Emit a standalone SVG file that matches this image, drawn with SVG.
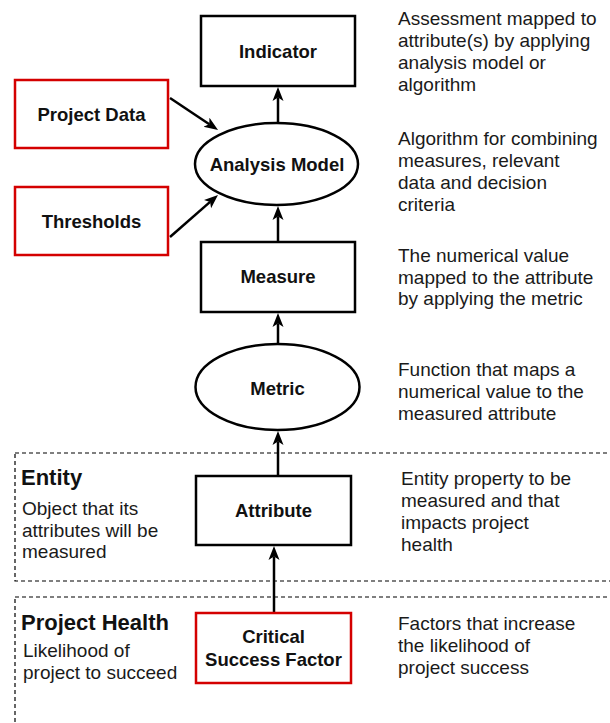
<svg xmlns="http://www.w3.org/2000/svg" width="610" height="723" viewBox="0 0 610 723">
  <style>
    .box { fill: #ffffff; stroke: #000000; stroke-width: 2.5; }
    .red { fill: #ffffff; stroke: #d40000; stroke-width: 2.5; }
    .zone { fill: none; stroke: #000000; stroke-width: 1.2; stroke-dasharray: 4 3; }
    .label { font-family: "Liberation Sans", Arial, Helvetica, sans-serif; font-size: 18.5px; font-weight: bold; fill: #111111; text-anchor: middle; }
    .title { font-family: "Liberation Sans", Arial, Helvetica, sans-serif; font-size: 22px; font-weight: bold; fill: #111111; }
    .desc { font-family: "Liberation Sans", Arial, Helvetica, sans-serif; font-size: 19px; fill: #1a1a1a; }
    .edge { fill: none; stroke: #000000; stroke-width: 2.5; marker-end: url(#arrow); }
  </style>
  <defs>
    <!-- notched arrowhead, anchored at the notch so the line stays hidden under it -->
    <marker id="arrow" markerUnits="userSpaceOnUse" markerWidth="14" markerHeight="12" viewBox="0 0 14 12" refX="3.5" refY="6" orient="auto">
      <path d="M0,0.5 L14,6 L0,11.5 L3.5,6 z" fill="#000000"/>
    </marker>
  </defs>

  <rect width="610" height="723" fill="#ffffff"/>

  <!-- layer zones -->
  <g id="zone-entity">
    <rect class="zone" x="15" y="453" width="620" height="128"/>
    <text class="title" x="21" y="485">Entity</text>
    <text class="desc" x="22" y="515">Object that its</text>
    <text class="desc" x="22" y="537">attributes will be</text>
    <text class="desc" x="22" y="558">measured</text>
  </g>
  <g id="zone-project-health">
    <rect class="zone" x="15" y="597" width="620" height="160"/>
    <text class="title" x="21" y="630">Project Health</text>
    <text class="desc" x="23" y="657">Likelihood of</text>
    <text class="desc" x="23" y="679">project to succeed</text>
  </g>

  <!-- connectors -->
  <g id="connectors">
    <line class="edge" x1="278" y1="123" x2="278" y2="97.5"/>
    <line class="edge" x1="170" y1="98" x2="209.3" y2="124.2"/>
    <line class="edge" x1="170" y1="237" x2="210.1" y2="201.9"/>
    <line class="edge" x1="278" y1="242" x2="278" y2="216.5"/>
    <line class="edge" x1="278" y1="344" x2="278" y2="323.5"/>
    <line class="edge" x1="278" y1="476" x2="278" y2="441.5"/>
    <line class="edge" x1="274" y1="613" x2="274" y2="556.5"/>
  </g>

  <!-- nodes -->
  <g id="indicator">
    <rect class="box" x="201" y="16" width="154" height="70"/>
    <text class="label" x="278" y="58">Indicator</text>
  </g>
  <g id="project-data">
    <rect class="red" x="15" y="80" width="153" height="68"/>
    <text class="label" x="91.5" y="121">Project Data</text>
  </g>
  <g id="thresholds">
    <rect class="red" x="15" y="187" width="153" height="68"/>
    <text class="label" x="91.5" y="228">Thresholds</text>
  </g>
  <g id="analysis-model">
    <ellipse class="box" cx="276.5" cy="164" rx="81.5" ry="41"/>
    <text class="label" x="277" y="171">Analysis Model</text>
  </g>
  <g id="measure">
    <rect class="box" x="201" y="242" width="154" height="70"/>
    <text class="label" x="278" y="283">Measure</text>
  </g>
  <g id="metric">
    <ellipse class="box" cx="277.5" cy="387" rx="82" ry="43"/>
    <text class="label" x="277.5" y="395">Metric</text>
  </g>
  <g id="attribute">
    <rect class="box" x="196" y="476" width="155" height="69"/>
    <text class="label" x="273.5" y="517">Attribute</text>
  </g>
  <g id="critical-success-factor">
    <rect class="red" x="196" y="613" width="155" height="70"/>
    <text class="label" x="273.5" y="643">Critical</text>
    <text class="label" x="273.5" y="666">Success Factor</text>
  </g>

  <!-- descriptions -->
  <g id="desc-indicator" class="desc">
    <text x="398" y="25">Assessment mapped to</text>
    <text x="398" y="47">attribute(s) by applying</text>
    <text x="398" y="69">analysis model or</text>
    <text x="398" y="91">algorithm</text>
  </g>
  <g id="desc-analysis-model" class="desc">
    <text x="398" y="145">Algorithm for combining</text>
    <text x="398" y="167">measures, relevant</text>
    <text x="398" y="189">data and decision</text>
    <text x="398" y="211">criteria</text>
  </g>
  <g id="desc-measure" class="desc">
    <text x="398" y="262">The numerical value</text>
    <text x="398" y="283.5">mapped to the attribute</text>
    <text x="398" y="305">by applying the metric</text>
  </g>
  <g id="desc-metric" class="desc">
    <text x="398" y="376">Function that maps a</text>
    <text x="398" y="398">numerical value to the</text>
    <text x="398" y="420">measured attribute</text>
  </g>
  <g id="desc-attribute" class="desc">
    <text x="401" y="485">Entity property to be</text>
    <text x="401" y="507">measured and that</text>
    <text x="401" y="529">impacts project</text>
    <text x="401" y="551">health</text>
  </g>
  <g id="desc-csf" class="desc">
    <text x="398" y="630">Factors that increase</text>
    <text x="398" y="652">the likelihood of</text>
    <text x="398" y="674">project success</text>
  </g>
</svg>
